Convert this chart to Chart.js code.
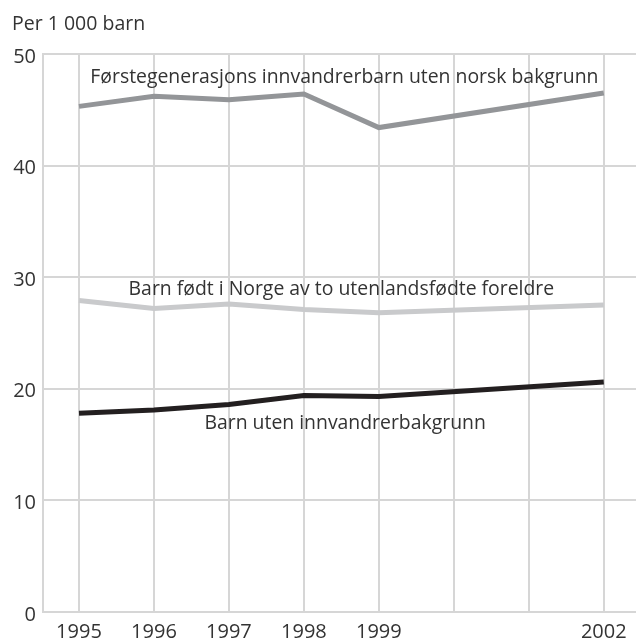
<!DOCTYPE html>
<html lang="no">
<head>
<meta charset="UTF-8">
<title>Per 1 000 barn</title>
<script src="https://cdn.jsdelivr.net/npm/chart.js"></script>
<style>
  html, body { margin: 0; padding: 0; background: #fff; }
</style>
</head>
<body>
<canvas id="chart" width="636" height="639"></canvas>
<script>
// data (2000 and 2001 have no points, line spans them)
var years = [1995, 1996, 1997, 1998, 1999, 2000, 2001, 2002];
var yearLabels = ["1995", "1996", "1997", "1998", "1999", "", "", "2002"];
var seriesNames = [
  "Førstegenerasjons innvandrerbarn uten norsk bakgrunn",
  "Barn født i Norge av to utenlandsfødte foreldre",
  "Barn uten innvandrerbakgrunn"
];
var forstegenerasjon = [45.3, 46.2, 45.9, 46.4, 43.4, null, null, 46.5];
var fodtINorge = [27.9, 27.2, 27.6, 27.1, 26.8, null, null, 27.5];
var utenBakgrunn = [17.8, 18.1, 18.6, 19.4, 19.3, null, null, 20.6];
var yTicks = [0, 10, 20, 30, 40, 50];

var textColor = "#333333";
var gridColor = "#d6d6d6";

function toPoints(values) {
  return years.map(function (yr, i) {
    return { x: yr, y: values[i] };
  });
}

// draws the series names inside the plot, anchored in data units
var seriesLabels = {
  id: "seriesLabels",
  afterDatasetsDraw: function (chart, args, opts) {
    var ctx = chart.ctx;
    var xs = chart.scales.x;
    var ys = chart.scales.y;
    ctx.save();
    ctx.font = opts.font;
    ctx.fillStyle = textColor;
    ctx.textAlign = "center";
    ctx.textBaseline = "middle";
    opts.anchors.forEach(function (a, i) {
      ctx.fillText(seriesNames[i], xs.getPixelForValue(a.x), ys.getPixelForValue(a.y));
    });
    ctx.restore();
  }
};

var ctx = document.getElementById("chart").getContext("2d");
var chart = new Chart(ctx, {
  type: "line",
  data: {
    datasets: [
      {
        label: seriesNames[0],
        data: toPoints(forstegenerasjon),
        borderColor: "#939598",
        borderWidth: 5
      },
      {
        label: seriesNames[1],
        data: toPoints(fodtINorge),
        borderColor: "#c9cacc",
        borderWidth: 5
      },
      {
        label: seriesNames[2],
        data: toPoints(utenBakgrunn),
        borderColor: "#231f20",
        borderWidth: 5
      }
    ]
  },
  options: {
    responsive: false,
    animation: false,
    spanGaps: true,
    elements: {
      point: { radius: 0 },
      line: { tension: 0, borderJoinStyle: "miter", borderCapStyle: "butt" }
    },
    layout: { padding: { left: 12, right: 0, top: 0, bottom: 0 } },
    plugins: {
      legend: { display: false },
      tooltip: { enabled: false },
      title: {
        display: true,
        text: "Per 1 000 barn",
        align: "start",
        color: textColor,
        font: { family: "Open Sans", size: 19.5, weight: "normal", lineHeight: 1.2 },
        padding: { top: 12.5, bottom: 18 }
      },
      seriesLabels: {
        font: "19.4px 'Open Sans'",
        anchors: [
          { x: 1998.54, y: 47.85 },
          { x: 1998.5, y: 28.85 },
          { x: 1998.55, y: 16.85 }
        ]
      }
    },
    scales: {
      x: {
        type: "linear",
        min: 1994.52,
        max: 2002.43,
        afterBuildTicks: function (axis) {
          axis.ticks = years.map(function (v) { return { value: v }; });
        },
        afterFit: function (scale) { scale.height = 27; },
        ticks: {
          autoSkip: false,
          maxRotation: 0,
          padding: 8,
          color: textColor,
          font: { family: "Open Sans", size: 20, lineHeight: 1.2 },
          callback: function (value) {
            var i = years.indexOf(value);
            return i >= 0 ? yearLabels[i] : "";
          }
        },
        grid: { color: gridColor, lineWidth: 2, drawTicks: false },
        border: { color: gridColor, width: 2 }
      },
      y: {
        min: 0,
        max: 50,
        afterBuildTicks: function (axis) {
          axis.ticks = yTicks.map(function (v) { return { value: v }; });
        },
        afterFit: function (scale) { scale.width = 31; },
        ticks: {
          padding: 7,
          labelOffset: 3,
          color: textColor,
          font: { family: "Open Sans", size: 20 }
        },
        grid: { color: gridColor, lineWidth: 2, drawTicks: false },
        border: { color: gridColor, width: 2 }
      }
    }
  },
  plugins: [seriesLabels]
});
</script>
</body>
</html>
